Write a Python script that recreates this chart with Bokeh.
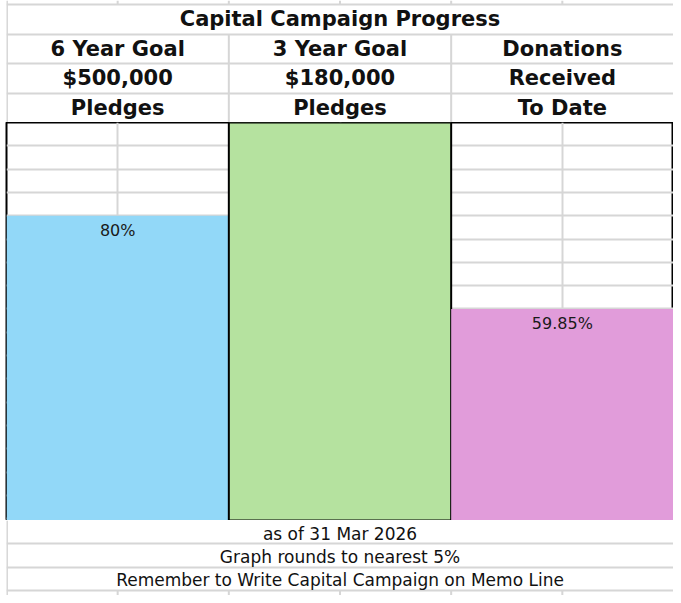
from bokeh.plotting import figure
from bokeh.models import Range1d, FactorRange, FixedTicker, SingleIntervalTicker, ColumnDataSource
from bokeh.layouts import column
from bokeh.embed import file_html
from bokeh.resources import INLINE
from bokeh.core.properties import value

# ---- data ----
title_text = "Capital Campaign Progress"
categories = ["6 Year Goal", "3 Year Goal", "Donations"]
header_line2 = ["$500,000", "$180,000", "Received"]
header_line3 = ["Pledges", "Pledges", "To Date"]
percent_values = [80, 100, 60]          # graph rounds to nearest 5%
bar_labels = ["80%", "", "59.85%"]
bar_colors = ["#92d8f8", "#b5e29f", "#e19cda"]
bar_outline_alpha = [0, 1, 0]
footer_lines = ["as of 31 Mar 2026", "Graph rounds to nearest 5%",
                "Remember to Write Capital Campaign on Memo Line"]

# spreadsheet cell structure (in column units: one merged pair = 1)
merged_edges = [1, 2]
cell_edges = [0.5, 1, 1.5, 2, 2.5]

W = 673
LEFT = 6
GRID = "#d6d6d6"
FONT = value("DejaVu Sans")
TXT = "#111111"


def sheet_fig(height, x_range, y_range):
    fig = figure(width=W, height=height, x_range=x_range, y_range=y_range,
                 output_backend="svg", toolbar_location=None, min_border=0,
                 min_border_left=LEFT)
    fig.axis.visible = False
    fig.outline_line_color = None
    return fig


# ---- header (spreadsheet rows above the chart) ----
HTOP = 4.14
h = sheet_fig(122, Range1d(0, 3), Range1d(0, HTOP))
h.xgrid.visible = False
h.yaxis.ticker = FixedTicker(ticks=[1, 2, 3, 4])
h.ygrid.ticker = FixedTicker(ticks=[1, 2, 3, 4])
h.ygrid.grid_line_color = GRID
h.ygrid.grid_line_width = 2
# vertical cell borders of the merged header cells
h.segment(x0=merged_edges, y0=[0] * len(merged_edges), x1=merged_edges, y1=[3] * len(merged_edges),
          line_color=GRID, line_width=2)
# column borders in the strip above the title
h.segment(x0=cell_edges, y0=[4] * len(cell_edges), x1=cell_edges, y1=[HTOP] * len(cell_edges),
          line_color=GRID, line_width=2)
h.segment(x0=[0.002], y0=[0], x1=[0.002], y1=[HTOP], line_color=GRID, line_width=2)

xs = [0.5, 1.5, 2.5]
h.text(x=[1.5], y=[3.5], text=[title_text], text_align="center", text_baseline="middle",
       text_font=FONT, text_font_style="bold", text_font_size="21px", text_color=TXT)
for row_y, row in [(2.5, categories), (1.5, header_line2), (0.5, header_line3)]:
    h.text(x=xs, y=[row_y] * 3, text=row, text_align="center", text_baseline="middle",
           text_font=FONT, text_font_style="bold", text_font_size="21px", text_color=TXT)

# ---- bar chart ----
src = ColumnDataSource(dict(cat=categories, val=percent_values, lab=bar_labels,
                            col=bar_colors, la=bar_outline_alpha))
p = sheet_fig(398, FactorRange(*categories), Range1d(14.6, 100))
p.yaxis.ticker = SingleIntervalTicker(interval=5)
p.ygrid.ticker = SingleIntervalTicker(interval=5)
for g in (p.xgrid, p.ygrid):
    g.grid_line_color = GRID
    g.grid_line_width = 2
p.outline_line_color = "black"
p.outline_line_width = 2
p.vbar(x="cat", top="val", bottom=0, width=1, source=src, fill_color="col",
       line_color="black", line_alpha="la", line_width=2)
p.text(x="cat", y="val", text="lab", source=src, text_align="center", text_baseline="top",
       y_offset=5, text_font=FONT, text_font_size="16px", text_color="#1a1a1a")

# ---- footer ----
FBOT = -0.215
f = sheet_fig(75, Range1d(0, 3), Range1d(FBOT, 3))
f.xgrid.visible = False
f.yaxis.ticker = FixedTicker(ticks=[0, 1, 2])
f.ygrid.ticker = FixedTicker(ticks=[0, 1, 2])
f.ygrid.grid_line_color = GRID
f.ygrid.grid_line_width = 2
f.segment(x0=cell_edges, y0=[FBOT] * len(cell_edges), x1=cell_edges, y1=[0] * len(cell_edges),
          line_color=GRID, line_width=2)
f.segment(x0=[0.002], y0=[FBOT], x1=[0.002], y1=[3], line_color=GRID, line_width=2)
f.text(x=[1.5, 1.5, 1.5], y=[2.42, 1.45, 0.47], text=footer_lines, text_align="center",
       text_baseline="middle", text_font=FONT, text_font_size="17px", text_color=TXT)

layout = column(h, p, f, spacing=0)
open("out.html", "w").write(file_html(layout, INLINE))
